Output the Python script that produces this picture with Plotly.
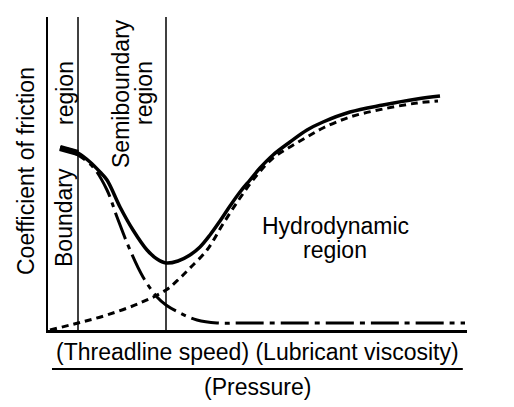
import plotly.graph_objects as go

# curve samples (x = position along speed axis, y = friction height)
total_x = [60, 70, 78, 90, 100, 107, 120, 133, 147, 157, 166, 178, 190, 200, 210, 220, 230,
           240, 250, 260, 273, 290, 307, 323, 350, 383, 417, 440]
total_y = [182, 180, 177, 168, 158, 150, 123, 100, 80, 71, 67, 69, 75, 83, 95, 109, 124,
           138, 150, 162, 175, 188, 200, 208, 218, 225, 231, 234]

boundary_x = [60, 70, 78, 93, 107, 117, 130, 143, 157, 166, 180, 197, 217, 240, 300, 400, 465]
boundary_y = [182, 179, 175, 163, 140, 113, 80, 53, 33, 25, 17, 10, 7, 7, 7, 7, 7]

hydro_x = [50, 78, 107, 140, 166, 180, 190, 207, 223, 240, 257, 273, 290, 307, 323, 350, 383, 417, 438]
hydro_y = [0, 7, 15, 27, 40, 52, 62, 80, 106, 132, 155, 172, 183, 193, 202, 213, 221, 227, 229]

region_edges = [78, 166]

FONT = "Liberation Sans, Arial, sans-serif"

fig = go.Figure()
fig.add_trace(go.Scatter(x=hydro_x, y=hydro_y, mode="lines", line_shape="spline",
                         line=dict(color="black", width=3, dash="7px,5px")))
fig.add_trace(go.Scatter(x=boundary_x, y=boundary_y, mode="lines", line_shape="spline",
                         line=dict(color="black", width=3, dash="28px,6px,5px,6px")))
fig.add_trace(go.Scatter(x=total_x, y=total_y, mode="lines", line_shape="spline",
                         line=dict(color="black", width=3.5)))
# heavier brush stroke at the start of the total curve
fig.add_trace(go.Scatter(x=total_x[:3], y=total_y[:3], mode="lines",
                         line=dict(color="black", width=6)))

for edge in region_edges:
    fig.add_shape(type="line", x0=edge, x1=edge, y0=0, y1=1, yref="paper",
                  line=dict(color="black", width=1.5))

# fraction bar under the x label
fig.add_shape(type="line", xref="paper", yref="paper", x0=0.0095, x1=0.990,
              y0=-0.1246, y1=-0.1246, line=dict(color="black", width=2))

txt = dict(showarrow=False, xanchor="center", yanchor="middle",
           font=dict(family=FONT, size=23, color="black"))
fig.add_annotation(x=-0.0525, y=0.508, xref="paper", yref="paper",
                   text="Coefficient of friction", textangle=-90, **txt)
fig.add_annotation(x=64, y=112, text="Boundary", textangle=-90, **txt)
fig.add_annotation(x=65, y=237, text="region", textangle=-90, **txt)
fig.add_annotation(x=121, y=236, text="Semiboundary", textangle=-90, **txt)
fig.add_annotation(x=144, y=237, text="region", textangle=-90, **txt)
fig.add_annotation(x=335, y=104, text="Hydrodynamic", **txt)
fig.add_annotation(x=335, y=80, text="region", **txt)
fig.add_annotation(x=0.499, y=-0.0703, xref="paper", yref="paper",
                   text="(Threadline speed) (Lubricant viscosity)", **txt)
fig.add_annotation(x=0.499, y=-0.182, xref="paper", yref="paper",
                   text="(Pressure)", **txt)

# page body keeps an 8px margin, so the figure is 8px smaller and the left/top margins shrink
fig.update_layout(
    width=506, height=399,
    margin=dict(l=40, r=47, t=9, b=77),
    paper_bgcolor="white", plot_bgcolor="white",
    showlegend=False,
    xaxis=dict(range=[48, 467], showgrid=False, zeroline=False, showticklabels=False,
               ticks="", showline=True, linecolor="black", linewidth=2.5),
    yaxis=dict(range=[0, 313], showgrid=False, zeroline=False, showticklabels=False,
               ticks="", showline=True, linecolor="black", linewidth=2),
)

fig.write_html("out.html")
